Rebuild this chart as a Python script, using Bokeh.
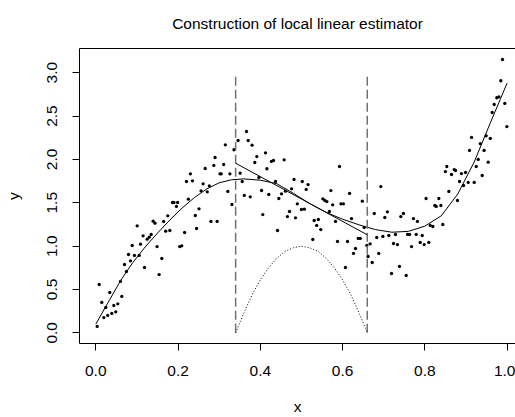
from bokeh.plotting import figure
from bokeh.models import Range1d, FixedTicker, PrintfTickFormatter, LinearAxis
from bokeh.embed import file_html
from bokeh.resources import INLINE

# ---- data ----
pts_x = [0.315, 0.336, 0.290, 0.287, 0.311, 0.266, 0.230, 0.302, 0.305, 0.326,
         0.2205, 0.235, 0.261, 0.276, 0.256, 0.271, 0.321, 0.225, 0.1865, 0.190,
         0.199, 0.196, 0.331, 0.251, 0.242, 0.175, 0.1395, 0.144, 0.165, 0.280,
         0.295, 0.1006, 0.245, 0.170, 0.180, 0.216, 0.115, 0.1347, 0.130, 0.125,
         0.0885, 0.1087, 0.149, 0.204, 0.209, 0.0795, 0.094, 0.1055, 0.0844, 0.1605,
         0.0698, 0.1184, 0.0746, 0.154, 0.060, 0.0083, 0.034, 0.0632, 0.0146, 0.0243,
         0.0438, 0.0535, 0.0195, 0.029, 0.039, 0.0486, 0.0034,
         0.3664, 0.346, 0.3705, 0.380, 0.4126, 0.3915, 0.3866, 0.427, 0.432, 0.458,
         0.416, 0.351, 0.5925, 0.482, 0.502, 0.516, 0.437, 0.356, 0.3965, 0.403,
         0.5115, 0.476, 0.461, 0.4515, 0.4207, 0.361, 0.3755, 0.445, 0.490, 0.552,
         0.557, 0.5617, 0.5715, 0.617, 0.596, 0.602, 0.648, 0.576, 0.500, 0.507,
         0.406, 0.466, 0.471, 0.4855, 0.568, 0.531, 0.541, 0.537, 0.547, 0.4418,
         0.5276, 0.5877, 0.612, 0.638, 0.643, 0.6217, 0.5828, 0.677, 0.659, 0.667,
         0.6314, 0.6265, 0.662, 0.672, 0.607, 0.6525,
         0.9888, 0.9847, 0.975, 0.980, 0.9686, 0.9944, 0.9637, 0.9993, 0.9135, 0.949,
         0.959, 0.9346, 0.9086, 0.944,
         0.9297, 0.954, 0.9249, 0.9394, 0.8534, 0.850, 0.8714, 0.8746, 0.8648, 0.889,
         0.8989, 0.8843, 0.894, 0.9054, 0.920, 0.693, 0.8583, 0.8794, 0.803, 0.834,
         0.8242, 0.8276, 0.839, 0.709, 0.7027, 0.7416, 0.748, 0.7724, 0.782, 0.813,
         0.8194, 0.8437, 0.683, 0.698, 0.7124, 0.7287, 0.758, 0.7627, 0.779, 0.7936,
         0.7238, 0.7335, 0.7676, 0.7887, 0.7984, 0.8096, 0.688, 0.7384, 0.719, 0.7547]
pts_y = [2.168, 2.111, 2.022, 1.930, 1.941, 1.895, 1.834, 1.834, 1.834, 1.834,
         1.745, 1.753, 1.718, 1.695, 1.638, 1.626, 1.630, 1.541, 1.503, 1.503,
         1.503, 1.457, 1.480, 1.430, 1.353, 1.349, 1.287, 1.264, 1.284, 1.284,
         1.284, 1.234, 1.203, 1.172, 1.180, 1.157, 1.119, 1.134, 1.103, 1.080,
         1.007, 1.022, 0.995, 0.995, 1.003, 0.903, 0.892, 0.892, 0.830, 0.857,
         0.788, 0.753, 0.707, 0.672, 0.592, 0.557, 0.465, 0.419, 0.350, 0.292,
         0.315, 0.334, 0.176, 0.200, 0.223, 0.242, 0.073,
         2.322, 2.218, 2.218, 2.164, 2.076, 2.033, 1.964, 1.976, 1.987, 1.995,
         1.892, 1.841, 1.918, 1.768, 1.745, 1.710, 1.745, 1.745, 1.791, 1.641,
         1.653, 1.661, 1.633, 1.603, 1.595, 1.584, 1.568, 1.549, 1.488, 1.545,
         1.526, 1.514, 1.641, 1.607, 1.488, 1.488, 1.518, 1.476, 1.422, 1.426,
         1.364, 1.341, 1.399, 1.326, 1.399, 1.295, 1.307, 1.238, 1.191, 1.180,
         1.076, 1.053, 1.053, 1.088, 1.088, 1.318, 1.284, 1.376, 1.007, 1.026,
         0.972, 0.915, 0.880, 0.811, 0.753, 1.215,
         3.152, 2.907, 2.711, 2.722, 2.633, 2.645, 2.541, 2.379, 2.253, 2.272,
         2.241, 2.183, 2.103, 2.103,
         1.999, 1.968, 1.918, 1.814, 1.918, 1.860, 1.883, 1.872, 1.826, 1.837,
         1.849, 1.745, 1.699, 1.734, 1.734, 1.687, 1.630, 1.526, 1.549, 1.549,
         1.468, 1.457, 1.468, 1.395, 1.330, 1.341, 1.376, 1.318, 1.284, 1.238,
         1.226, 1.249, 1.099, 1.111, 1.122, 1.134, 1.134, 1.134, 1.134, 1.122,
         1.030, 1.018, 0.995, 1.042, 1.018, 1.042, 0.915, 0.765, 0.684, 0.661]

curve_x = [0.00, 0.03, 0.06, 0.09, 0.12, 0.15, 0.18, 0.21, 0.24, 0.27, 0.30, 0.33,
           0.36, 0.40, 0.44, 0.48, 0.52, 0.56, 0.60, 0.64, 0.68, 0.72, 0.76, 0.80,
           0.84, 0.88, 0.92, 0.96, 1.00]
curve_y = [0.10, 0.35, 0.60, 0.81, 0.99, 1.15, 1.30, 1.44, 1.56, 1.66, 1.73, 1.765,
           1.775, 1.76, 1.72, 1.61, 1.49, 1.39, 1.31, 1.245, 1.19, 1.16, 1.17, 1.23,
           1.35, 1.60, 1.97, 2.43, 2.88]

window_x = [0.34, 0.66]          # window edges (dashed lines)
window_bottom = [0.0, 0.0]
window_top = [3.0, 3.0]
local_line_x = [0.34, 0.66]      # local linear fit
local_line_y = [1.956, 1.13]

kernel_x = [0.34, 0.36, 0.38, 0.40, 0.42, 0.44, 0.46, 0.48, 0.50,
            0.52, 0.54, 0.56, 0.58, 0.60, 0.62, 0.64, 0.66]
kernel_y = [0.00, 0.23, 0.44, 0.61, 0.75, 0.86, 0.94, 0.98, 1.00,
            0.98, 0.94, 0.86, 0.75, 0.61, 0.44, 0.23, 0.00]

x_ticks = [0.0, 0.2, 0.4, 0.6, 0.8, 1.0]
y_ticks = [0.0, 0.5, 1.0, 1.5, 2.0, 2.5, 3.0]

title_text = "Construction of local linear estimator"
FONT = "Liberation Sans"
FS = "15.5px"

p = figure(width=515, height=417, output_backend="svg", toolbar_location=None,
           x_range=Range1d(-0.0396, 1.0204), y_range=Range1d(-0.1234, 3.279),
           min_border_left=79, min_border_right=0, min_border_top=48,
           min_border_bottom=74, x_axis_location=None, y_axis_location=None,
           title=title_text)
p.grid.visible = False
p.outline_line_color = None
p.background_fill_color = "white"
p.border_fill_color = "white"

p.title.align = "center"
p.title.vertical_align = "top"
p.title.text_font = FONT
p.title.text_font_size = FS
p.title.text_font_style = "normal"
p.title.text_color = "black"
p.title.standoff = 29

xaxis = LinearAxis(ticker=FixedTicker(ticks=x_ticks),
                   formatter=PrintfTickFormatter(format="%.1f"), axis_label="x")
yaxis = LinearAxis(ticker=FixedTicker(ticks=y_ticks),
                   formatter=PrintfTickFormatter(format="%.1f"), axis_label="y")
for ax in (xaxis, yaxis):
    ax.axis_line_color = "black"
    ax.major_tick_line_color = "black"
    ax.major_tick_in = 0
    ax.major_tick_out = 7
    ax.minor_tick_line_color = None
    ax.major_label_text_font = FONT
    ax.major_label_text_font_size = FS
    ax.major_label_text_color = "black"
    ax.axis_label_text_font = FONT
    ax.axis_label_text_font_size = FS
    ax.axis_label_text_font_style = "normal"
    ax.axis_label_text_color = "black"
xaxis.major_label_standoff = 15
xaxis.axis_label_standoff = 19
yaxis.major_label_standoff = 15
yaxis.axis_label_standoff = 23
yaxis.major_label_orientation = "vertical"
p.add_layout(xaxis, "below")
p.add_layout(yaxis, "left")

top = LinearAxis(ticker=FixedTicker(ticks=[]), major_tick_out=0, major_tick_in=0,
                 minor_tick_line_color=None, major_label_text_font_size="0px",
                 axis_line_color="black")
p.add_layout(top, "above")

p.scatter(pts_x, pts_y, size=3.3, color="black", line_color=None)
p.line(curve_x, curve_y, line_color="black", line_width=1)
p.segment(x0=window_x, y0=window_bottom, x1=window_x, y1=window_top,
          line_color="#707070", line_width=1.5, line_dash="9 4")
p.line(local_line_x, local_line_y, line_color="black", line_width=1)
p.line(kernel_x, kernel_y, line_color="black", line_width=1, line_dash="1 2")

open("out.html", "w").write(file_html(p, INLINE))
